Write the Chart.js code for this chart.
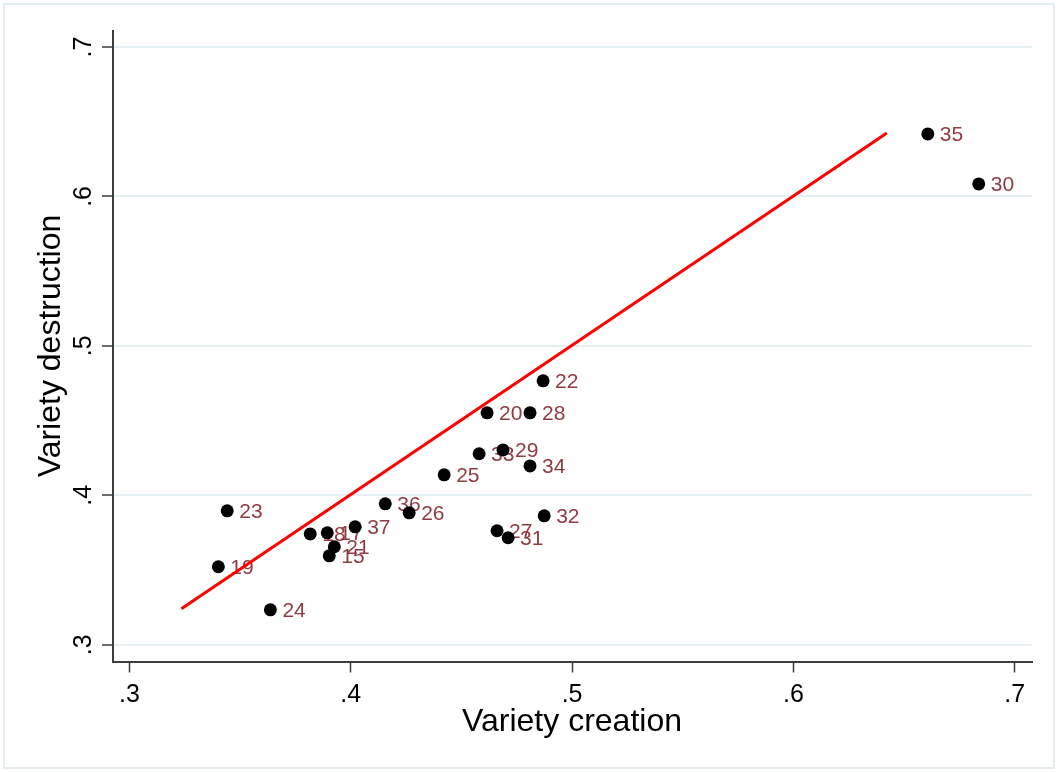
<!DOCTYPE html>
<html>
<head>
<meta charset="utf-8">
<script src="https://cdn.jsdelivr.net/npm/chart.js@4"></script>
<style>
    html, body { margin: 0; padding: 0; background: #fff; }
    #wrap { width: 1058px; height: 772px; }
</style>
</head>
<body>
<div id="wrap"><canvas id="scatterChart" width="1058" height="772"></canvas></div>
<script>
// country/industry ids and their values
const ids = ['35', '30', '22', '20', '28', '29', '33', '34', '25', '36', '26',
             '32', '27', '31', '37', '23', '18', '17', '21', '15', '19', '24'];
const creation = [0.6607, 0.6837, 0.4869, 0.4616, 0.4810, 0.4688, 0.4580, 0.4810, 0.4422, 0.4156, 0.4264,
                  0.4874, 0.4661, 0.4711, 0.4020, 0.3442, 0.3817, 0.3894, 0.3926, 0.3903, 0.3402, 0.3637];
const destruction = [0.6418, 0.6084, 0.4766, 0.4552, 0.4552, 0.4304, 0.4278, 0.4197, 0.4137, 0.3943, 0.3883,
                     0.3863, 0.3763, 0.3716, 0.3789, 0.3896, 0.3742, 0.3749, 0.3656, 0.3595, 0.3522, 0.3234];

// fitted line end points
const fitX = [0.3235, 0.6422];
const fitY = [0.3241, 0.6425];

const tickValues = [0.3, 0.4, 0.5, 0.6, 0.7];
const xTitle = 'Variety creation';
const yTitle = 'Variety destruction';

const FONT = '"Liberation Sans", Arial, sans-serif';

function fmtTick(v) {
    return Number(v).toFixed(1).replace(/^0/, '');
}

const decor = {
    id: 'decor',
    beforeDraw(chart) {
        const ctx = chart.ctx;
        ctx.save();
        ctx.fillStyle = '#fff';
        ctx.fillRect(0, 0, chart.width, chart.height);
        ctx.strokeStyle = '#e3edf0';
        ctx.lineWidth = 2;
        ctx.strokeRect(4, 4, chart.width - 8, chart.height - 8);
        ctx.restore();
    },
    beforeDatasetsDraw(chart) {
        // marker labels
        const ctx = chart.ctx;
        const xs = chart.scales.x, ys = chart.scales.y;
        ctx.save();
        ctx.fillStyle = '#923a42';
        ctx.font = '21px ' + FONT;
        ctx.textAlign = 'left';
        ctx.textBaseline = 'middle';
        ids.forEach((id, i) => {
            ctx.fillText(id, xs.getPixelForValue(creation[i]) + 12, ys.getPixelForValue(destruction[i]) + 1);
        });
        ctx.restore();
    },
    afterDraw(chart) {
        const ctx = chart.ctx;
        const ys = chart.scales.y;
        const area = chart.chartArea;
        ctx.save();
        ctx.fillStyle = '#000';
        // y tick labels, rotated
        ctx.font = '25px ' + FONT;
        ctx.textAlign = 'center';
        ctx.textBaseline = 'middle';
        tickValues.forEach(v => {
            ctx.save();
            ctx.translate(84, ys.getPixelForValue(v));
            ctx.rotate(-Math.PI / 2);
            ctx.fillText(fmtTick(v), 0, 0);
            ctx.restore();
        });
        // axis titles
        ctx.font = '32px ' + FONT;
        ctx.fillText(xTitle, 572, 722);
        ctx.save();
        ctx.translate(51, 346);
        ctx.rotate(-Math.PI / 2);
        ctx.fillText(yTitle, 0, 0);
        ctx.restore();
        ctx.restore();
    }
};

const ctx = document.getElementById('scatterChart').getContext('2d');
new Chart(ctx, {
    type: 'scatter',
    data: {
        datasets: [{
            label: 'Fitted values',
            data: fitX.map((x, i) => ({ x, y: fitY[i] })),
            showLine: true,
            borderColor: '#ff0000',
            borderWidth: 3,
            pointRadius: 0,
            fill: false
        }, {
            label: 'Variety destruction',
            data: creation.map((x, i) => ({ x, y: destruction[i] })),
            backgroundColor: '#000',
            borderWidth: 0,
            pointRadius: 6.5,
            pointHoverRadius: 6.5
        }]
    },
    options: {
        responsive: false,
        animation: false,
        events: [],
        layout: { padding: { top: 31, right: 25.5, left: 0, bottom: 0 } },
        plugins: {
            legend: { display: false },
            tooltip: { enabled: false }
        },
        scales: {
            x: {
                type: 'linear',
                min: 0.2926,
                max: 0.708,
                afterFit: s => { s.height = 110.5; },
                border: { display: true, color: '#3c3c3c', width: 2 },
                grid: {
                    drawOnChartArea: false,
                    drawTicks: true,
                    tickLength: 11,
                    tickColor: '#3c3c3c',
                    tickWidth: 1.5
                },
                ticks: {
                    stepSize: 0.1,
                    includeBounds: false,
                    maxRotation: 0,
                    padding: 8,
                    color: '#000',
                    font: { family: FONT, size: 25 },
                    callback: v => fmtTick(v)
                }
            },
            y: {
                type: 'linear',
                min: 0.2888,
                max: 0.7107,
                afterFit: s => { s.width = 113; },
                border: { display: true, color: '#3c3c3c', width: 2 },
                grid: {
                    color: '#e6eff1',
                    lineWidth: 2,
                    drawTicks: true,
                    tickLength: 11,
                    tickColor: '#3c3c3c',
                    tickWidth: 1.5
                },
                ticks: {
                    stepSize: 0.1,
                    includeBounds: false,
                    display: false
                }
            }
        }
    },
    plugins: [decor]
});
</script>
</body>
</html>
